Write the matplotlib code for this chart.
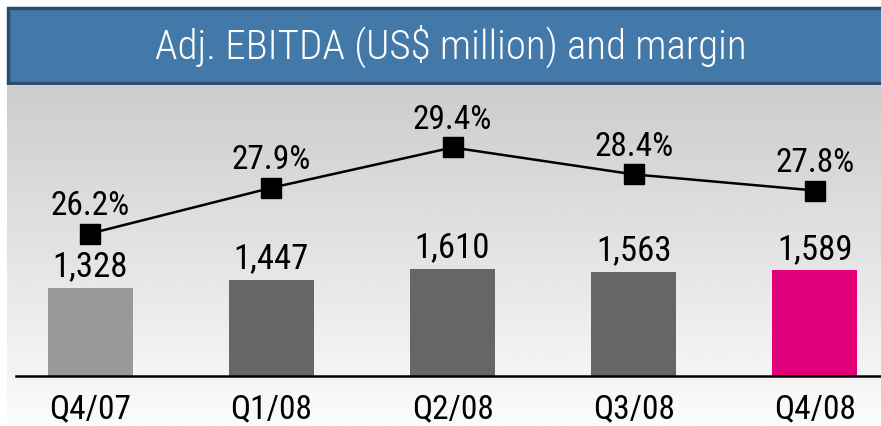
import matplotlib
matplotlib.use('Agg')
import matplotlib.pyplot as plt
from matplotlib.patches import Rectangle
import numpy as np

plt.rcParams['font.family'] = ['Roboto Condensed', 'Liberation Sans', 'DejaVu Sans']

quarters = ['Q4/07', 'Q1/08', 'Q2/08', 'Q3/08', 'Q4/08']
ebitda = [1328, 1447, 1610, 1563, 1589]
margin = [26.2, 27.9, 29.4, 28.4, 27.8]
bar_colors = ['#999999', '#666666', '#666666', '#666666', '#e2007a']

W, H = 881, 427
fig = plt.figure(figsize=(W / 100, H / 100), dpi=100)

# gray gradient panel
bg = fig.add_axes([7 / W, 0, 1 - 7 / W, (H - 87) / H])
grad = np.linspace(0.80, 0.985, 256).reshape(-1, 1)
bg.imshow(grad, aspect='auto', cmap='gray', vmin=0, vmax=1,
          extent=[0, 1, 0, 1], origin='upper')
bg.set_axis_off()

# title banner
fig.patches.append(Rectangle((8 / W, (H - 84) / H), 1, 75 / H,
                             transform=fig.transFigure, facecolor='#4379a9',
                             edgecolor='#2b4c6c', linewidth=2.5, zorder=0))
fig.text(451 / W, (H - 46) / H, 'Adj. EBITDA (US$ million) and margin',
         color='white', fontsize=29.5, weight='light', ha='center', va='center')

ax = fig.add_axes([16 / W, 50 / H, 864 / W, 289 / H])
ax.patch.set_alpha(0)
x = np.arange(len(quarters))
bars = ax.bar(x, ebitda, width=0.47, color=bar_colors, zorder=2)
ax.set_xlim(-0.41, 4.36)
ax.set_ylim(0, 4350)
for s in ['top', 'left', 'right']:
    ax.spines[s].set_visible(False)
ax.spines['bottom'].set_linewidth(1.8)
ax.spines['bottom'].set_zorder(3)
ax.set_yticks([])
ax.set_xticks(x)
ax.set_xticklabels(quarters, fontsize=24)
ax.tick_params(axis='x', length=0, pad=12)
for xi, v in zip(x, ebitda):
    ax.annotate(f'{v:,}', (xi, v), xytext=(0, 4), textcoords='offset points',
                ha='center', va='bottom', fontsize=25)

ax2 = ax.twinx()
ax2.set_ylim(20.9, 31.65)
ax2.set_axis_off()
ax2.plot(x, margin, color='black', linewidth=1.8, marker='s',
         markersize=14, markerfacecolor='black', zorder=3)
for xi, m in zip(x, margin):
    ax2.annotate(f'{m:.1f}%', (xi, m), xytext=(0, 9), textcoords='offset points',
                 ha='center', va='bottom', fontsize=24)

fig.savefig('out.png', dpi=100)
